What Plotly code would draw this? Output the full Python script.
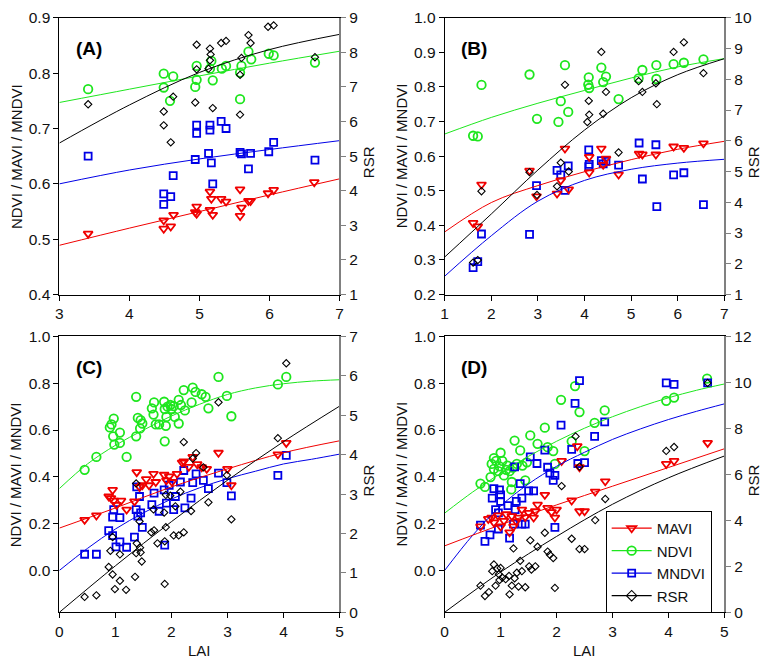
import plotly.graph_objects as go

# ---------------- Panel A ----------------
A_LAI_MAVI = [3.41,4.49,4.49,4.59,4.63,4.94,4.96,4.96,5.15,5.15,5.17,5.19,5.31,5.38,5.58,5.58,5.60,5.70,5.73,5.98,6.06,6.64]
A_MAVI = [0.510,0.534,0.519,0.523,0.544,0.549,0.559,0.546,0.586,0.553,0.573,0.544,0.573,0.568,0.590,0.542,0.557,0.569,0.569,0.583,0.589,0.603]
A_LAI_NDVI = [3.41,4.49,4.49,4.625,4.58,4.96,4.96,4.94,5.17,5.15,5.19,5.32,5.38,5.58,5.60,5.58,5.70,5.74,5.99,6.06,6.65]
A_NDVI = [0.771,0.799,0.774,0.794,0.750,0.813,0.788,0.775,0.822,0.808,0.787,0.808,0.813,0.801,0.813,0.753,0.839,0.825,0.835,0.832,0.819]
A_LAI_MNDVI = [3.41,4.49,4.49,4.59,4.625,4.96,4.96,4.94,5.15,5.15,5.13,5.17,5.19,5.31,5.38,5.58,5.60,5.70,5.73,5.99,6.06,6.65]
A_MNDVI = [0.650,0.582,0.563,0.577,0.615,0.706,0.691,0.644,0.706,0.697,0.655,0.638,0.600,0.713,0.700,0.657,0.654,0.627,0.655,0.658,0.675,0.643]
A_LAI_RSR = [3.41,4.49,4.49,4.59,4.625,4.94,4.96,4.96,5.15,5.16,5.15,5.13,5.19,5.31,5.38,5.58,5.58,5.60,5.70,5.73,5.98,6.06,6.65]
A_RSR = [6.50,6.29,5.89,5.40,6.72,6.55,8.22,7.51,8.11,7.94,7.77,7.53,6.39,8.27,8.33,7.35,6.20,7.84,8.50,8.27,8.74,8.78,7.86]
A_FIT_LAI = [3,4,5,6,7]
A_FIT_MAVI = [0.489,0.520,0.550,0.580,0.609]
A_FIT_NDVI = [0.747,0.771,0.795,0.818,0.8395]
A_FIT_MNDVI = [0.600,0.625,0.645,0.662,0.678]
A_FIT_RSR = [5.38,6.48,7.42,8.08,8.52]

# ---------------- Panel B ----------------
B_LAI_MAVI = [1.61,1.71,1.79,2.82,2.97,3.41,3.49,3.58,3.66,4.10,4.10,4.36,4.40,4.46,4.73,5.17,5.24,5.53,5.91,6.13,6.55]
B_MAVI = [0.407,0.397,0.518,0.558,0.484,0.492,0.530,0.622,0.504,0.598,0.553,0.622,0.575,0.593,0.547,0.607,0.605,0.605,0.628,0.624,0.637]
B_LAI_NDVI = [1.61,1.71,1.79,2.82,2.98,3.44,3.49,3.58,3.65,4.09,4.08,4.10,4.36,4.40,4.46,4.73,5.16,5.24,5.54,5.54,5.91,6.13,6.55]
B_NDVI = [0.659,0.657,0.806,0.836,0.708,0.699,0.759,0.863,0.728,0.828,0.807,0.797,0.856,0.814,0.830,0.765,0.825,0.849,0.863,0.823,0.866,0.870,0.880]
B_LAI_MNDVI = [1.61,1.71,1.79,2.82,2.97,3.41,3.49,3.58,3.65,4.09,4.09,4.10,4.36,4.40,4.46,4.73,5.17,5.24,5.53,5.55,5.91,6.13,6.55]
B_MNDVI = [0.278,0.295,0.375,0.374,0.515,0.559,0.546,0.501,0.572,0.618,0.570,0.576,0.587,0.578,0.585,0.574,0.638,0.534,0.633,0.454,0.546,0.552,0.460]
B_LAI_RSR = [1.61,1.71,1.79,2.82,2.98,3.41,3.49,3.58,3.66,4.06,4.09,4.10,4.36,4.40,4.46,4.73,5.16,5.24,5.53,5.55,5.91,6.13,6.55]
B_RSR = [2.04,2.12,4.36,4.98,4.24,4.52,5.29,7.82,5.00,6.61,7.30,6.85,8.89,6.88,7.59,5.62,7.94,7.59,7.87,7.19,8.89,9.20,8.20]
B_FIT_LAI = [1,2,3,4,5,6,7]
B_FIT_MAVI = [0.381,0.466,0.515,0.555,0.590,0.620,0.643]
B_FIT_NDVI = [0.664,0.712,0.753,0.790,0.826,0.858,0.882]
B_FIT_MNDVI = [0.253,0.370,0.470,0.530,0.562,0.580,0.591]
B_FIT_RSR = [2.22,3.62,5.05,6.35,7.40,8.15,8.67]

# ---------------- Panel C ----------------
C_LAI_NDVI = [0.45,0.66,0.90,0.93,0.97,0.96,0.98,1.08,1.08,1.20,1.37,1.37,1.40,1.44,1.45,1.48,1.65,1.68,1.69,1.72,1.78,1.87,1.88,1.90,1.88,1.91,1.98,2.04,2.06,2.13,2.13,2.17,2.22,2.24,2.36,2.38,2.43,2.54,2.61,2.66,2.84,2.99,3.07,3.90,4.05,1.93,2.00]
C_NDVI = [0.430,0.485,0.611,0.624,0.649,0.573,0.538,0.589,0.545,0.485,0.742,0.573,0.652,0.607,0.642,0.628,0.693,0.666,0.718,0.624,0.624,0.721,0.690,0.618,0.552,0.656,0.707,0.702,0.656,0.729,0.628,0.707,0.771,0.684,0.718,0.781,0.763,0.753,0.742,0.693,0.827,0.746,0.659,0.795,0.827,0.700,0.690]
C_LAI_MAVI = [0.45,0.66,0.88,0.92,0.95,0.97,1.10,1.20,1.34,1.38,1.43,1.48,1.60,1.68,1.72,1.87,1.91,1.96,2.01,2.10,2.22,2.31,2.38,2.46,2.54,2.63,2.84,3.00,3.07,3.90,4.05,1.02,1.55,2.19]
C_MAVI = [0.216,0.235,0.316,0.309,0.344,0.298,0.298,0.260,0.295,0.420,0.357,0.364,0.364,0.413,0.378,0.409,0.385,0.402,0.378,0.413,0.466,0.443,0.485,0.454,0.441,0.434,0.503,0.434,0.364,0.496,0.545,0.280,0.390,0.461]
C_LAI_MNDVI = [0.45,0.66,0.88,0.95,0.97,0.95,1.01,1.08,1.08,1.20,1.34,1.37,1.38,1.40,1.43,1.45,1.48,1.65,1.69,1.78,1.88,1.87,1.91,1.96,2.04,2.07,2.16,2.22,2.24,2.35,2.38,2.44,2.57,2.66,2.84,2.99,3.07,3.90,4.05]
C_MNDVI = [0.069,0.069,0.170,0.228,0.260,0.149,0.101,0.122,0.226,0.099,0.142,0.260,0.357,0.232,0.316,0.246,0.184,0.281,0.330,0.253,0.108,0.344,0.288,0.364,0.260,0.316,0.378,0.427,0.267,0.309,0.375,0.413,0.385,0.350,0.416,0.375,0.319,0.406,0.492]
C_LAI_RSR = [0.45,0.66,0.88,0.91,0.95,0.95,0.99,1.08,1.08,1.19,1.35,1.37,1.37,1.38,1.43,1.44,1.45,1.47,1.64,1.68,1.69,1.75,1.87,1.88,1.88,1.90,1.90,1.98,2.04,2.07,2.13,2.22,2.16,2.22,2.35,2.38,2.44,2.57,2.66,2.84,2.99,3.07,3.90,4.05]
C_RSR = [0.39,0.43,1.15,1.56,1.91,0.96,0.59,1.47,0.80,0.57,0.90,3.27,1.50,1.75,2.31,1.64,1.52,1.29,2.03,2.61,2.08,1.75,2.53,0.72,1.80,2.16,2.98,2.96,1.95,2.69,1.95,2.03,3.06,4.32,2.57,3.90,4.04,3.68,2.79,5.33,3.48,2.36,4.42,6.32]
C_FIT_LAI = [0,0.5,1,1.5,2,2.5,3,3.5,4,4.5,5]
C_FIT_NDVI = [0.350,0.455,0.535,0.600,0.660,0.710,0.752,0.780,0.798,0.809,0.815]
C_FIT_MNDVI = [0.0,0.094,0.177,0.246,0.305,0.353,0.392,0.424,0.455,0.475,0.497]
C_FIT_LAI6 = [0,1,2,3,4,5]
C_FIT_MAVI = [0.181,0.267,0.357,0.434,0.503,0.554]
C_FIT_RSR = [0.0,1.18,2.30,3.35,4.33,5.23]

# ---------------- Panel D ----------------
D_LAI_NDVI = [0.64,0.72,0.82,0.84,0.88,0.88,0.92,0.96,0.98,1.00,1.03,1.06,1.12,1.16,1.19,1.20,1.25,1.29,1.35,1.39,1.44,1.53,1.66,1.79,1.84,1.94,1.97,2.08,2.27,2.33,2.41,2.50,2.68,2.86,3.96,4.10,4.69,1.10,1.22,1.47]
D_NDVI = [0.371,0.357,0.399,0.455,0.480,0.434,0.468,0.424,0.445,0.503,0.468,0.406,0.448,0.424,0.346,0.378,0.555,0.455,0.513,0.448,0.385,0.577,0.541,0.610,0.527,0.510,0.455,0.729,0.552,0.788,0.677,0.510,0.631,0.684,0.725,0.739,0.820,0.430,0.440,0.462]
D_LAI_MAVI = [0.64,0.84,0.88,1.00,1.06,1.16,1.20,1.23,1.32,1.38,1.44,1.50,1.59,1.62,1.66,1.79,1.84,1.91,1.97,2.00,2.09,2.27,2.37,2.41,2.41,2.50,2.69,2.87,3.96,4.10,4.70,0.78,0.95,1.10,1.28]
D_MAVI = [0.188,0.226,0.205,0.188,0.212,0.163,0.232,0.188,0.226,0.260,0.228,0.246,0.226,0.253,0.281,0.323,0.267,0.249,0.226,0.260,0.468,0.299,0.531,0.253,0.441,0.253,0.337,0.381,0.455,0.468,0.545,0.220,0.235,0.240,0.210]
D_LAI_MNDVI = [0.64,0.72,0.81,0.85,0.88,0.91,0.96,0.96,0.98,1.00,1.00,1.13,1.16,1.23,1.25,1.26,1.28,1.35,1.38,1.38,1.44,1.50,1.53,1.59,1.65,1.79,1.84,1.88,1.94,1.97,1.97,2.08,2.27,2.33,2.41,2.38,2.50,2.68,2.86,3.96,4.10,4.70]
D_MNDVI = [0.194,0.124,0.152,0.309,0.350,0.260,0.177,0.246,0.344,0.295,0.323,0.277,0.138,0.198,0.443,0.260,0.295,0.371,0.309,0.198,0.198,0.340,0.485,0.340,0.457,0.514,0.441,0.416,0.385,0.406,0.184,0.621,0.517,0.714,0.811,0.457,0.461,0.573,0.635,0.802,0.795,0.802]
D_LAI_RSR = [0.64,0.72,0.79,0.85,0.88,0.91,0.94,0.97,0.98,1.00,1.03,1.09,1.15,1.16,1.20,1.23,1.25,1.29,1.32,1.35,1.38,1.44,1.51,1.53,1.55,1.62,1.66,1.79,1.84,1.88,1.94,1.97,2.09,2.27,2.34,2.41,2.41,2.50,2.69,2.87,3.96,4.10,4.70]
D_RSR = [1.16,0.71,0.88,1.79,2.08,1.16,1.91,1.65,1.40,1.93,1.51,1.44,1.58,0.78,1.16,2.78,1.48,1.72,1.12,2.24,1.79,1.09,2.00,3.13,1.86,2.00,2.85,3.46,2.64,2.50,2.36,1.06,5.49,3.20,7.65,2.75,6.34,2.75,4.01,4.93,7.02,7.19,9.98]
D_FIT_LAI = [0,0.5,1,1.5,2,2.5,3,3.5,4,4.5,5]
D_FIT_NDVI = [0.245,0.335,0.415,0.488,0.552,0.608,0.657,0.700,0.738,0.770,0.797]
D_FIT_MNDVI = [0.0,0.150,0.275,0.370,0.445,0.505,0.560,0.605,0.645,0.680,0.712]
D_FIT_LAI6 = [0,1,2,3,4,5]
D_FIT_MAVI = [0.105,0.195,0.280,0.360,0.440,0.520]
D_FIT_RSR = [0.0,1.75,3.30,4.70,5.85,6.80]

PANEL_LABELS = ["(A)", "(B)", "(C)", "(D)"]
SERIES_NAMES = ["MAVI", "NDVI", "MNDVI", "RSR"]

RED = "#f00000"
GREEN = "#1ee61e"
BLUE = "#0000e6"
BLACK = "#000000"

W, H = 769, 670

def px_x(v):
    return v / W

def px_y(v):
    return 1 - v / H

# panel frames in pixels: (left, right, top, bottom)
frames = [(56, 339, 9, 293), (445.3, 728, 9, 293), (56, 339, 336, 619), (445.3, 728, 336, 619)]

fig = go.Figure()

def sty(kind):
    if kind == "MAVI":
        return dict(symbol="triangle-down-open", size=8, color=RED, line=dict(color=RED, width=1.8))
    if kind == "NDVI":
        return dict(symbol="circle-open", size=8.5, color=GREEN, line=dict(color=GREEN, width=1.8))
    if kind == "MNDVI":
        return dict(symbol="square-open", size=7, color=BLUE, line=dict(color=BLUE, width=1.8))
    return dict(symbol="diamond-open", size=5.6, color=BLACK, line=dict(color=BLACK, width=1.1))

COL = {"MAVI": RED, "NDVI": GREEN, "MNDVI": BLUE, "RSR": BLACK}

panels = [
    dict(pts=[("RSR", A_LAI_RSR, A_RSR), ("NDVI", A_LAI_NDVI, A_NDVI), ("MNDVI", A_LAI_MNDVI, A_MNDVI), ("MAVI", A_LAI_MAVI, A_MAVI)],
         fits=[("NDVI", A_FIT_LAI, A_FIT_NDVI), ("MNDVI", A_FIT_LAI, A_FIT_MNDVI), ("MAVI", A_FIT_LAI, A_FIT_MAVI), ("RSR", A_FIT_LAI, A_FIT_RSR)],
         xr=[3, 7], yl=[0.4, 0.9], yr=[1, 9], ydt=0.1, rdt=1),
    dict(pts=[("RSR", B_LAI_RSR, B_RSR), ("NDVI", B_LAI_NDVI, B_NDVI), ("MNDVI", B_LAI_MNDVI, B_MNDVI), ("MAVI", B_LAI_MAVI, B_MAVI)],
         fits=[("NDVI", B_FIT_LAI, B_FIT_NDVI), ("MNDVI", B_FIT_LAI, B_FIT_MNDVI), ("MAVI", B_FIT_LAI, B_FIT_MAVI), ("RSR", B_FIT_LAI, B_FIT_RSR)],
         xr=[1, 7], yl=[0.2, 1.0], yr=[1, 10], ydt=0.1, rdt=1),
    dict(pts=[("RSR", C_LAI_RSR, C_RSR), ("NDVI", C_LAI_NDVI, C_NDVI), ("MNDVI", C_LAI_MNDVI, C_MNDVI), ("MAVI", C_LAI_MAVI, C_MAVI)],
         fits=[("NDVI", C_FIT_LAI, C_FIT_NDVI), ("MNDVI", C_FIT_LAI, C_FIT_MNDVI), ("MAVI", C_FIT_LAI6, C_FIT_MAVI), ("RSR", C_FIT_LAI6, C_FIT_RSR)],
         xr=[0, 5], yl=[-0.179, 1.0], yr=[0, 7], ydt=0.2, rdt=1),
    dict(pts=[("RSR", D_LAI_RSR, D_RSR), ("NDVI", D_LAI_NDVI, D_NDVI), ("MNDVI", D_LAI_MNDVI, D_MNDVI), ("MAVI", D_LAI_MAVI, D_MAVI)],
         fits=[("NDVI", D_FIT_LAI, D_FIT_NDVI), ("MNDVI", D_FIT_LAI, D_FIT_MNDVI), ("MAVI", D_FIT_LAI6, D_FIT_MAVI), ("RSR", D_FIT_LAI6, D_FIT_RSR)],
         xr=[0, 5], yl=[-0.179, 1.0], yr=[0, 12], ydt=0.2, rdt=2),
]

FONT = "Arial, Liberation Sans, sans-serif"
TICKSIZE = 15.5
layout = dict(width=W, height=H, margin=dict(l=0, r=0, t=0, b=0),
              paper_bgcolor="white", plot_bgcolor="white",
              font=dict(family=FONT, size=15, color="#111"),
              showlegend=True)
annotations = []

for i, p in enumerate(panels):
    n = i + 1
    xa = "x" if n == 1 else f"x{n}"
    yl_n = 2 * n - 1
    yr_n = 2 * n
    ya = "y" if yl_n == 1 else f"y{yl_n}"
    yb = f"y{yr_n}"
    L, R, T, B = frames[i]
    for kind, xs, ys in p["pts"]:
        fig.add_trace(go.Scatter(x=xs, y=ys, mode="markers", marker=sty(kind),
                                 xaxis=xa, yaxis=(yb if kind == "RSR" else ya),
                                 showlegend=False, hoverinfo="skip"))
    for kind, xs, ys in p["fits"]:
        fig.add_trace(go.Scatter(x=xs, y=ys, mode="lines", line=dict(color=COL[kind], width=1, shape="spline"),
                                 xaxis=xa, yaxis=(yb if kind == "RSR" else ya),
                                 showlegend=False, hoverinfo="skip"))
    xkey = "xaxis" if n == 1 else f"xaxis{n}"
    ylkey = "yaxis" if yl_n == 1 else f"yaxis{yl_n}"
    yrkey = f"yaxis{yr_n}"
    layout[xkey] = dict(domain=[px_x(L), px_x(R)], anchor=ya, range=p["xr"], dtick=1,
                        showline=True, linecolor="black", linewidth=1, mirror=True,
                        ticks="outside", ticklen=5, tickcolor="black", showgrid=False, zeroline=False,
                        tickfont=dict(size=TICKSIZE, color="#111"))
    layout[ylkey] = dict(domain=[px_y(B), px_y(T)], anchor=xa, range=p["yl"], tick0=0, dtick=p["ydt"],
                         tickformat=".1f", showline=True, linecolor="black", linewidth=1,
                         ticks="outside", ticklen=5, tickcolor="black", showgrid=False, zeroline=False,
                         tickfont=dict(size=TICKSIZE, color="#111"))
    layout[yrkey] = dict(overlaying=ya, anchor=xa, side="right", range=p["yr"], tick0=0, dtick=p["rdt"],
                         showline=True, linecolor="#808080", linewidth=1.5,
                         ticks="outside", ticklen=5, tickcolor="#808080", showgrid=False, zeroline=False,
                         tickfont=dict(size=TICKSIZE, color="#111"))
    cy = (T + B) / 2
    annotations.append(dict(text="<b>" + PANEL_LABELS[i] + "</b>", x=px_x(L + 30), y=px_y(T + 32), xref="paper", yref="paper",
                            showarrow=False, font=dict(size=19, family=FONT, color="black"), xanchor="center", yanchor="middle"))
    annotations.append(dict(text="NDVI / MAVI / MNDVI", x=px_x(L - 44), y=px_y(cy), xref="paper", yref="paper",
                            showarrow=False, textangle=-90, font=dict(size=15, family=FONT, color="#111"),
                            xanchor="center", yanchor="middle"))
    annotations.append(dict(text="RSR", x=px_x(R + 29), y=px_y(cy + 6), xref="paper", yref="paper",
                            showarrow=False, textangle=-90, font=dict(size=15, family=FONT, color="#111"),
                            xanchor="center", yanchor="middle"))
    if n >= 3:
        annotations.append(dict(text="LAI", x=px_x((L + R) / 2), y=px_y(658), xref="paper", yref="paper",
                                showarrow=False, font=dict(size=15, family=FONT, color="#111"),
                                xanchor="center", yanchor="middle"))

# legend entries (panel D)
for kind in SERIES_NAMES:
    m = dict(sty(kind))
    if kind == "RSR":
        m["size"] = 8
    fig.add_trace(go.Scatter(x=[None], y=[None], mode="lines+markers", name=kind, marker=m,
                             line=dict(color=COL[kind], width=1.2), xaxis="x4", yaxis="y7"))

layout["legend"] = dict(x=px_x(608), y=px_y(515), xanchor="left", yanchor="top",
                        bgcolor="white", bordercolor="black", borderwidth=1,
                        font=dict(size=15, family=FONT, color="#111"), tracegroupgap=0,
                        itemwidth=40)
layout["annotations"] = annotations
fig.update_layout(**layout)
fig.write_html("out.html", config={"displayModeBar": False},
               post_script="document.body.style.margin='0px';")
